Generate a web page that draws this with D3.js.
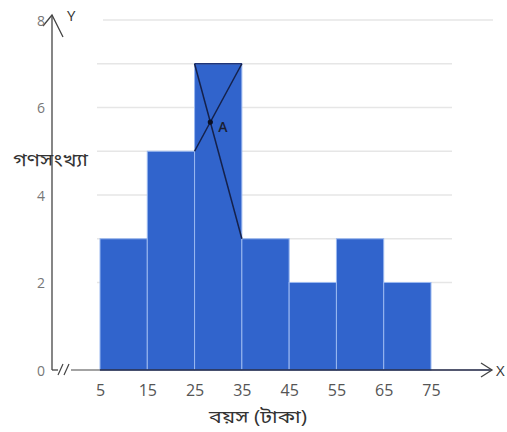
<!DOCTYPE html>
<html>
<head>
<meta charset="utf-8">
<script src="https://cdn.jsdelivr.net/npm/d3@7"></script>
<style>
  html, body { margin: 0; padding: 0; background: #fff; }
  svg { display: block; font-family: "Open Sans", "Noto Sans", "Noto Sans Bengali", sans-serif; }
</style>
</head>
<body>
<svg id="chart" width="507" height="432"></svg>
<script>
// Class boundaries (age groups) and frequencies
const binStarts = [5, 15, 25, 35, 45, 55, 65];
const binEnds = [15, 25, 35, 45, 55, 65, 75];
const frequencies = [3, 5, 7, 3, 2, 3, 2];
const xTickValues = [5, 15, 25, 35, 45, 55, 65, 75];
const yTickValues = [0, 2, 4, 6, 8];
const gridValues = [2, 3, 4, 5, 6, 7, 8];
const xTitle = "বয়স (টাকা)";
const yTitle = "গণসংখ্যা";

const svg = d3.select("#chart");

const x = d3.scaleLinear().domain([5, 75]).range([100, 431]);
const y = d3.scaleLinear().domain([0, 8]).range([370, 20]);
const axisX = 52;

// Horizontal grid lines
svg.append("g").selectAll("line").data(gridValues).join("line")
  .attr("x1", d => d === 8 ? 103 : 97)
  .attr("x2", d => d === 8 ? 493 : 452)
  .attr("y1", d => y(d)).attr("y2", d => y(d))
  .attr("stroke", "#e6e6e6").attr("stroke-width", 1.5);

// Histogram bars
const bins = binStarts.map((s, i) => ({ start: s, end: binEnds[i], f: frequencies[i] }));
svg.append("g").selectAll("rect").data(bins).join("rect")
  .attr("x", d => x(d.start))
  .attr("y", d => y(d.f))
  .attr("width", d => x(d.end) - x(d.start))
  .attr("height", d => y(0) - y(d.f))
  .attr("fill", "#3164cc")
  .attr("stroke", "#9ab8f0")
  .attr("stroke-width", 1);

// Modal class construction: diagonals from the modal bar's top corners
const mi = frequencies.indexOf(d3.max(frequencies));
const modal = bins[mi], prev = bins[mi - 1], next = bins[mi + 1];
svg.append("line")
  .attr("x1", x(modal.start)).attr("y1", y(modal.f))
  .attr("x2", x(modal.end)).attr("y2", y(modal.f))
  .attr("stroke", "#1f3578").attr("stroke-width", 1.5);
svg.append("line")
  .attr("x1", x(modal.start)).attr("y1", y(modal.f))
  .attr("x2", x(next.start)).attr("y2", y(next.f))
  .attr("stroke", "#15214a").attr("stroke-width", 1.5);
svg.append("line")
  .attr("x1", x(modal.end)).attr("y1", y(modal.f))
  .attr("x2", x(prev.end)).attr("y2", y(prev.f))
  .attr("stroke", "#15214a").attr("stroke-width", 1.5);

// Intersection point A
const s1 = (next.f - modal.f) / (next.start - modal.start);
const s2 = (prev.f - modal.f) / (prev.end - modal.end);
const ax = (s1 * modal.start - s2 * modal.end) / (s1 - s2);
const ay = modal.f + s1 * (ax - modal.start);
svg.append("circle").attr("cx", x(ax)).attr("cy", y(ay)).attr("r", 2.6).attr("fill", "#0a0f22");
svg.append("text").attr("x", x(ax) + 8).attr("y", y(ay) + 10)
  .attr("font-size", 14).attr("font-weight", 600).attr("fill", "#1a1f33").text("A");

// Y axis line with arrowhead
svg.append("line").attr("x1", axisX).attr("y1", 370).attr("x2", axisX).attr("y2", 15)
  .attr("stroke", "#444").attr("stroke-width", 1.3);
svg.append("path").attr("d", `M${axisX - 9},26 L${axisX},15 L${axisX + 11},37`)
  .attr("fill", "none").attr("stroke", "#444").attr("stroke-width", 1.3);
svg.append("text").attr("x", 67).attr("y", 21).attr("font-size", 15).attr("fill", "#333").text("Y");

// X axis line with break mark and arrowhead
svg.append("path").attr("d", `M${axisX},370 L${axisX + 6},370`)
  .attr("fill", "none").attr("stroke", "#444").attr("stroke-width", 1.3);
svg.append("path").attr("d", `M58,375 L63,364 M64,375 L69,364`)
  .attr("fill", "none").attr("stroke", "#444").attr("stroke-width", 1.2);
svg.append("line").attr("x1", 71).attr("y1", 370).attr("x2", 100).attr("y2", 370)
  .attr("stroke", "#666").attr("stroke-width", 1.2);
svg.append("line").attr("x1", 100).attr("y1", 370).attr("x2", 492).attr("y2", 370)
  .attr("stroke", "#1a2040").attr("stroke-width", 1.6);
svg.append("path").attr("d", `M481,363 L492,370 L481,377`)
  .attr("fill", "none").attr("stroke", "#444").attr("stroke-width", 1.3);
svg.append("text").attr("x", 496).attr("y", 376).attr("font-size", 15).attr("fill", "#333").text("X");

// Y tick labels
const yAxis = d3.axisLeft(y).tickValues(yTickValues).tickSize(0).tickPadding(0);
const gy = svg.append("g").attr("transform", "translate(45,1)").call(yAxis);
gy.select(".domain").remove();
gy.selectAll("text").attr("font-size", 14).attr("fill", "#777")
  .attr("font-family", "'Open Sans', sans-serif");

// X tick labels
const xAxis = d3.axisBottom(x).tickValues(xTickValues).tickSize(0).tickPadding(0);
const gx = svg.append("g").attr("transform", "translate(0,385)").call(xAxis);
gx.select(".domain").remove();
gx.selectAll("text").attr("font-size", 16).attr("fill", "#555")
  .attr("font-family", "'Open Sans', sans-serif");

// Axis titles
svg.append("text").attr("x", 258).attr("y", 423).attr("text-anchor", "middle")
  .attr("font-size", 18).attr("fill", "#333")
  .attr("textLength", 98).attr("lengthAdjust", "spacingAndGlyphs").text(xTitle);
svg.append("text").attr("x", 13).attr("y", 166)
  .attr("font-size", 18).attr("fill", "#333")
  .attr("textLength", 75).attr("lengthAdjust", "spacingAndGlyphs").text(yTitle);
</script>
</body>
</html>
